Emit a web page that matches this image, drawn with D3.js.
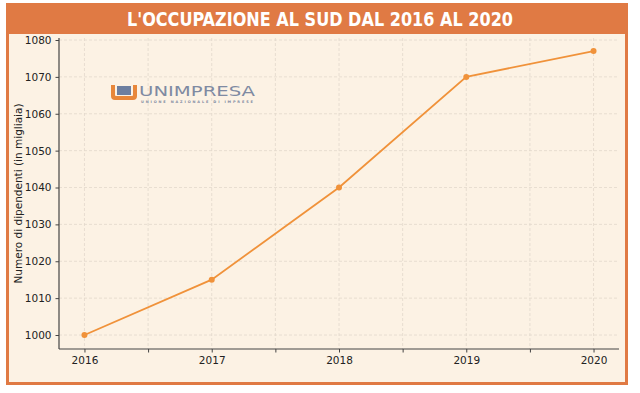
<!DOCTYPE html>
<html>
<head>
<meta charset="utf-8">
<script src="https://cdn.jsdelivr.net/npm/d3@7"></script>
<style>
  body { margin: 0; background: #ffffff; }
  svg text { font-family: "DejaVu Sans", sans-serif; }
</style>
</head>
<body>
<div class="visualization"></div>
<script>
// data
const years = [2016, 2017, 2018, 2019, 2020];
const employees = [1000, 1015, 1040, 1070, 1077];
const yTicks = [1000, 1010, 1020, 1030, 1040, 1050, 1060, 1070, 1080];
const titleText = "L'OCCUPAZIONE AL SUD DAL 2016 AL 2020";
const yLabel = "Numero di dipendenti (in migliaia)";

const width = 640, height = 393;
const margin = { top: 38, right: 21, bottom: 44, left: 59 };
const orange = "#e07a44";
const cream = "#fcf2e4";
const lineColor = "#f0923a";

const svg = d3.select(".visualization").append("svg")
  .attr("width", width)
  .attr("height", height);

// frame + title bar
svg.append("rect")
  .attr("x", 7.5).attr("y", 4.5)
  .attr("width", 619).attr("height", 379)
  .attr("fill", cream)
  .attr("stroke", orange)
  .attr("stroke-width", 3);

svg.append("rect")
  .attr("x", 6).attr("y", 3)
  .attr("width", 622).attr("height", 31)
  .attr("fill", orange);

svg.append("text")
  .attr("x", 320).attr("y", 26)
  .attr("text-anchor", "middle")
  .attr("fill", "#ffffff")
  .style("font-family", "'DejaVu Sans Condensed', 'DejaVu Sans', sans-serif")
  .style("font-weight", "bold")
  .style("font-size", "19px")
  .attr("textLength", 386)
  .attr("lengthAdjust", "spacingAndGlyphs")
  .text(titleText);

const xScale = d3.scaleLinear()
  .domain([2015.8, 2020.2])
  .range([margin.left, width - margin.right]);

const yScale = d3.scaleLinear()
  .domain([1000, 1080])
  .range([335, 40]);

const plotBottom = height - margin.bottom;

// grid
const halfYears = d3.range(2015.5, 2020.51, 0.5).filter(v => v > 2015.8 && v < 2020.2);
svg.append("g")
  .selectAll("line")
  .data(halfYears)
  .enter().append("line")
  .attr("x1", d => xScale(d)).attr("x2", d => xScale(d))
  .attr("y1", margin.top).attr("y2", plotBottom)
  .attr("stroke", "#e2d8cc")
  .attr("stroke-width", 0.8)
  .attr("stroke-dasharray", "3,2");

svg.append("g")
  .selectAll("line")
  .data(yTicks)
  .enter().append("line")
  .attr("x1", margin.left).attr("x2", width - margin.right)
  .attr("y1", d => yScale(d)).attr("y2", d => yScale(d))
  .attr("stroke", "#e2d8cc")
  .attr("stroke-width", 0.8)
  .attr("stroke-dasharray", "3,2");

// axes
const xAxis = d3.axisBottom(xScale)
  .tickValues(halfYears)
  .tickFormat(d => Number.isInteger(d) ? d : "")
  .tickSize(3.5)
  .tickPadding(4);

const yAxis = d3.axisLeft(yScale)
  .tickValues(yTicks)
  .tickFormat(d3.format("d"))
  .tickSize(3.5)
  .tickPadding(4);

const xAxisGroup = svg.append("g")
  .attr("transform", `translate(0, ${plotBottom})`)
  .call(xAxis);
xAxisGroup.select(".domain").attr("d", `M${margin.left},0H${width - margin.right}`);

const yAxisGroup = svg.append("g")
  .attr("transform", `translate(${margin.left}, 0)`)
  .call(yAxis);
yAxisGroup.select(".domain").attr("d", `M0,${margin.top}V${plotBottom}`);

[xAxisGroup, yAxisGroup].forEach(g => {
  g.select(".domain").attr("stroke", "#444").attr("stroke-width", 1.2);
  g.selectAll(".tick line").attr("stroke", "#444");
  g.selectAll("text")
    .attr("fill", "#222")
    .style("font-family", "'DejaVu Sans', sans-serif")
    .style("font-size", "10.5px");
});

svg.append("text")
  .attr("transform", `translate(22, ${(margin.top + plotBottom) / 2}) rotate(-90)`)
  .attr("text-anchor", "middle")
  .attr("fill", "#222")
  .style("font-size", "10.5px")
  .text(yLabel);

// logo
const logo = svg.append("g").attr("transform", "translate(111, 85)");
logo.append("path")
  .attr("d", "M0,0 V11 Q0,15 4,15 H22 Q26,15 26,11 V0 H22 V10 Q22,11 21,11 H5 Q4,11 4,10 V0 Z")
  .attr("fill", "#e8873a");
logo.append("rect")
  .attr("x", 6).attr("y", 1).attr("width", 14).attr("height", 9)
  .attr("fill", "#6d7fa0");
logo.append("text")
  .attr("x", 28).attr("y", 11)
  .attr("fill", "#7f8aa2")
  .style("font-size", "14px")
  .attr("textLength", 116)
  .attr("lengthAdjust", "spacingAndGlyphs")
  .text("UNIMPRESA");
logo.append("text")
  .attr("x", 30).attr("y", 17.5)
  .attr("fill", "#7f8aa2")
  .style("font-size", "3.5px")
  .style("font-weight", "bold")
  .attr("textLength", 112)
  .attr("lengthAdjust", "spacing")
  .text("UNIONE NAZIONALE DI IMPRESE");

// line + markers
const line = d3.line()
  .x((d, i) => xScale(years[i]))
  .y(d => yScale(d));

svg.append("path")
  .datum(employees)
  .attr("d", line)
  .attr("fill", "none")
  .attr("stroke", lineColor)
  .attr("stroke-width", 1.8);

svg.append("g")
  .selectAll("circle")
  .data(employees)
  .enter().append("circle")
  .attr("cx", (d, i) => xScale(years[i]))
  .attr("cy", d => yScale(d))
  .attr("r", 3)
  .attr("fill", lineColor);
</script>
</body>
</html>
